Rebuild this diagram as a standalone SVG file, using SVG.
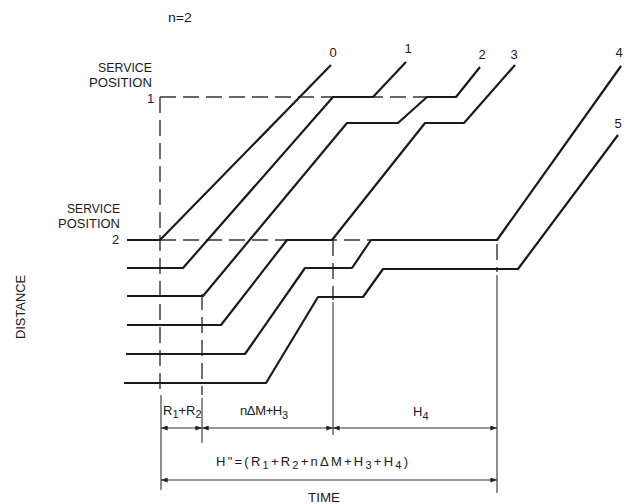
<svg xmlns="http://www.w3.org/2000/svg" width="626" height="504" viewBox="0 0 626 504">
<defs>
<marker id="ah" viewBox="0 0 8 6" refX="8" refY="3" markerWidth="7" markerHeight="5" markerUnits="userSpaceOnUse" orient="auto-start-reverse"><path d="M0,0 L8,3 L0,6 z" fill="#222"/></marker>
</defs>
<style>
.t{font-family:"Liberation Sans",Arial,sans-serif;fill:#1a1a1a;font-size:13px}
.s{font-size:11px}
.trk{fill:none;stroke:#1a1a1a;stroke-width:2.2;stroke-linejoin:round}
.dash{fill:none;stroke:#333;stroke-width:1.4;stroke-dasharray:16 7}
.dim{fill:none;stroke:#333;stroke-width:1.1}
.arr{marker-start:url(#ah);marker-end:url(#ah)}
</style>
<rect width="626" height="504" fill="#fff"/>

<g id="labels">
<text class="t" x="168" y="22" font-size="13" textLength="24" lengthAdjust="spacingAndGlyphs">n=2</text>
<text class="t" x="98" y="72" font-size="15" textLength="54" lengthAdjust="spacingAndGlyphs">SERVICE</text>
<text class="t" x="89" y="87" font-size="15" textLength="63" lengthAdjust="spacingAndGlyphs">POSITION</text>
<text class="t" x="147" y="103" font-size="10">1</text>
<text class="t" x="67" y="213" font-size="15" textLength="53" lengthAdjust="spacingAndGlyphs">SERVICE</text>
<text class="t" x="58" y="228" font-size="15" textLength="62" lengthAdjust="spacingAndGlyphs">POSITION</text>
<text class="t" x="112" y="244" font-size="14">2</text>
<text class="t" transform="translate(25,307) rotate(-90)" text-anchor="middle" font-size="15" textLength="64" lengthAdjust="spacingAndGlyphs">DISTANCE</text>
</g>

<g id="reference-lines">
<path class="dash" d="M160,97 H427"/>
<path class="dash" d="M160,97 V392"/>
<path class="dash" d="M160,240 H372"/>
<path class="dash" d="M202,294 V395"/>
<path class="dash" d="M333,240 V300"/>
<path class="dash" d="M497,244 V272"/>
</g>

<g id="train-0">
<path class="trk" d="M127,240 H160 L331,65"/>
<text class="t" x="333" y="57" text-anchor="middle" font-size="14">0</text>
</g>
<g id="train-1">
<path class="trk" d="M127,268 H183 L333,97 H373 L406,62"/>
<text class="t" x="408" y="53" text-anchor="middle" font-size="14">1</text>
</g>
<g id="train-2">
<path class="trk" d="M127,296 H203 L347,123 H398 L427,97 H456 L480,67"/>
<text class="t" x="482" y="59" text-anchor="middle" font-size="14">2</text>
</g>
<g id="train-3">
<path class="trk" d="M127,325 H221 L287,240 H332 L425,123 H464 L515,65"/>
<text class="t" x="514" y="59" text-anchor="middle" font-size="14">3</text>
</g>
<g id="train-4">
<path class="trk" d="M126,354 H245 L305,268 H352 L371,240 H497 L621,66"/>
<text class="t" x="619" y="57" text-anchor="middle" font-size="14">4</text>
</g>
<g id="train-5">
<path class="trk" d="M124,383 H266 L318,297 H363 L383,269 H518 L618,135"/>
<text class="t" x="618" y="128" text-anchor="middle" font-size="14">5</text>
</g>

<g id="connectors">
<path class="dim" d="M161,395 V490"/>
<path class="dim" d="M202,398 V443"/>
<path class="dim" d="M333,302 V435"/>
<path class="dim" d="M497,275 V493"/>
<path class="dim arr" d="M161,428 H202"/>
<path class="dim arr" d="M202,428 H333"/>
<path class="dim arr" d="M333,428 H497"/>
<path class="dim arr" d="M161,480 H497"/>
</g>

<g id="dimension-labels">
<text class="t" x="163" y="415" font-size="13">R<tspan class="s" dy="3">1</tspan><tspan dy="-3">+R</tspan><tspan class="s" dy="3">2</tspan></text>
<text class="t" x="240" y="415" font-size="13" textLength="48">nΔM+H<tspan class="s" dy="4">3</tspan></text>
<text class="t" x="413" y="416" font-size="13">H<tspan class="s" dy="4">4</tspan></text>
<text class="t" x="216" y="466" font-size="14" textLength="192">H"=(R<tspan class="s" dy="3">1</tspan><tspan dy="-3">+R</tspan><tspan class="s" dy="3">2</tspan><tspan dy="-3">+nΔM+H</tspan><tspan class="s" dy="3">3</tspan><tspan dy="-3">+H</tspan><tspan class="s" dy="3">4</tspan><tspan dy="-3">)</tspan></text>
<text class="t" x="308" y="502" font-size="13" textLength="32" lengthAdjust="spacingAndGlyphs">TIME</text>
</g>
</svg>
